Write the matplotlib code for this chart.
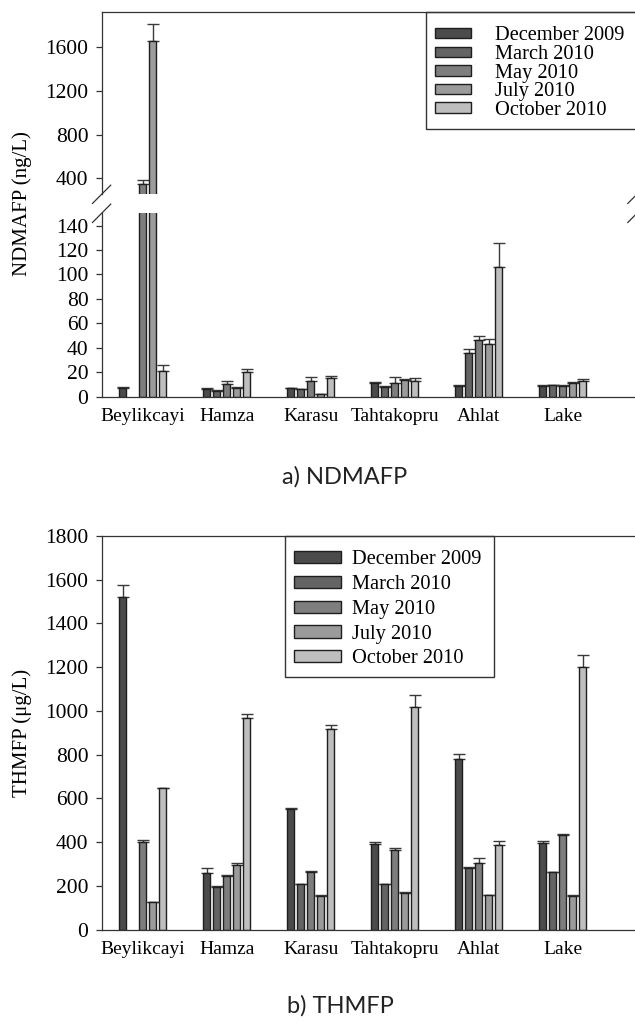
import numpy as np
import matplotlib
matplotlib.use("Agg")
import matplotlib.pyplot as plt
from matplotlib.patches import Rectangle

plt.rcParams['font.family'] = ['Liberation Serif', 'DejaVu Serif']

# Data
sites = ["Beylikcayi", "Hamza", "Karasu", "Tahtakopru", "Ahlat", "Lake"]
months = ["December 2009", "March 2010", "May 2010", "July 2010", "October 2010"]
colors = ["#4b4b4b", "#646464", "#7e7e7e", "#9b9b9b", "#bebebe"]

nan = np.nan
# NDMAFP (ng/L)
ndma_dec = [7, 6, 7, 11, 9, 9]
ndma_mar = [nan, 5, 6, 8, 36, 9.5]
ndma_may = [348, 10.5, 12.5, 11.5, 46, 9]
ndma_jul = [1650, 7.5, 2, 13.5, 43.5, 11.5]
ndma_oct = [21, 20, 15.5, 13, 106.5, 12.8]
ndma_dec_err = [0.8, 0.9, 0.5, 1.3, 0.3, 0.3]
ndma_mar_err = [nan, 0.6, 0.3, 0.5, 3.3, 0.3]
ndma_may_err = [35, 2.3, 3.3, 4.7, 3.3, 0.3]
ndma_jul_err = [160, 0.5, 0.5, 1.0, 4.1, 0.8]
ndma_oct_err = [4.7, 2.8, 1.6, 2.1, 19.6, 1.6]

# THMFP (ug/L)
thm_dec = [1522, 261, 553, 390, 782, 395]
thm_mar = [nan, 195, 207, 207, 281, 263]
thm_may = [402, 245, 265, 365, 307, 432]
thm_jul = [126, 295, 155, 170, 157, 155]
thm_oct = [647, 968, 917, 1018, 386, 1201]
thm_dec_err = [52, 22, 4, 12, 20, 10]
thm_mar_err = [nan, 3, 3, 3, 5, 3]
thm_may_err = [7, 5, 5, 9, 21, 5]
thm_jul_err = [3, 12, 3, 3, 3, 5]
thm_oct_err = [3, 20, 18, 55, 20, 56]

ndma = [ndma_dec, ndma_mar, ndma_may, ndma_jul, ndma_oct]
ndma_err = [ndma_dec_err, ndma_mar_err, ndma_may_err, ndma_jul_err, ndma_oct_err]
thm = [thm_dec, thm_mar, thm_may, thm_jul, thm_oct]
thm_err = [thm_dec_err, thm_mar_err, thm_may_err, thm_jul_err, thm_oct_err]

x = np.arange(len(sites))
step = 0.119
width = 0.083
spine_c = "#333333"
W, H = 635, 1027


def draw_bars(ax, vals, errs):
    handles = []
    for i in range(5):
        xi = x + (i - 2) * step
        v = np.array(vals[i], dtype=float)
        e = np.array(errs[i], dtype=float)
        h = ax.bar(xi, v, width, color=colors[i], edgecolor="#1e1e1e",
                   linewidth=1.0, label=months[i], zorder=2)
        ax.errorbar(xi, v, yerr=[np.zeros_like(e), e], fmt="none",
                    ecolor="#3a3a3a", elinewidth=1.0, capsize=4.3,
                    capthick=1.0, zorder=1)
        handles.append(h)
    return handles


def style(ax):
    ax.set_xlim(-0.492, 5.88)
    for s in ax.spines.values():
        s.set_color(spine_c)
        s.set_linewidth(0.9)
    ax.spines["right"].set_visible(False)
    ax.tick_params(axis="y", direction="out", length=4.5, width=0.9,
                   color=spine_c, labelsize=15.5, pad=5)
    ax.tick_params(axis="x", length=0, labelsize=14, pad=8)


def legend_box(handles, left, top, right, bottom, patch_x, row1_y, **kw):
    # frame drawn separately so it can sit exactly where the original has it
    fig.add_artist(Rectangle((left / W, 1 - bottom / H), (right - left) / W,
                             (bottom - top) / H, transform=fig.transFigure,
                             fill=False, ec=spine_c, lw=1.0))
    fig.legend(handles, months, loc="upper left",
               bbox_to_anchor=(patch_x / W, 1 - (row1_y - 6.5) / H),
               bbox_transform=fig.transFigure, borderaxespad=0, borderpad=0,
               frameon=False, fontsize=14.7, **kw)


fig = plt.figure(figsize=(6.35, 10.27), dpi=100)

# a) NDMAFP, broken axis
ax_hi = fig.add_axes([0.160, 0.8108, 0.843, 0.1778])
ax_lo = fig.add_axes([0.160, 0.6137, 0.843, 0.1786])
h = draw_bars(ax_hi, ndma, ndma_err)
draw_bars(ax_lo, ndma, ndma_err)
for ax in (ax_hi, ax_lo):
    style(ax)
ax_hi.set_ylim(255, 1920)
ax_hi.set_yticks([400, 800, 1200, 1600])
ax_hi.spines["bottom"].set_visible(False)
ax_hi.set_xticks([])
ax_lo.set_ylim(0, 150)
ax_lo.set_yticks(np.arange(0, 141, 20))
ax_lo.spines["top"].set_visible(False)
ax_lo.set_xticks(x)
ax_lo.set_xticklabels(sites)

# break marks
dx = 0.017
for ax, y0 in ((ax_hi, 0.0), (ax_lo, 1.0)):
    dy = 0.05
    for xc in (0.0, 1.0):
        ax.plot([xc - dx, xc + dx], [y0 - dy, y0 + dy], transform=ax.transAxes,
                color=spine_c, lw=0.9, clip_on=False)

legend_box(h, 426, 12, 700, 129, 435, 33,
           handlelength=1.76, handleheight=0.4, handletextpad=1.18,
           labelspacing=-0.02)

fig.text(22 / W, 1 - 204 / H, "NDMAFP (ng/L)", rotation=90,
         ha="center", va="center", fontsize=15)
fig.text(345 / W, 1 - 477 / H, "a) NDMAFP", ha="center", va="center",
         fontsize=17, family=["Lato", "DejaVu Sans"], color="#222222")

# b) THMFP
ax_b = fig.add_axes([0.160, 0.0947, 0.843, 0.3834])
h2 = draw_bars(ax_b, thm, thm_err)
style(ax_b)
ax_b.set_ylim(0, 1800)
ax_b.set_yticks(np.arange(0, 1801, 200))
ax_b.set_xticks(x)
ax_b.set_xticklabels(sites)

legend_box(h2, 285, 536, 494, 677, 294, 557,
           handlelength=2.29, handleheight=0.55, handletextpad=0.54,
           labelspacing=0.28)

fig.text(22 / W, 1 - 733 / H, "THMFP (\u03bcg/L)", rotation=90,
         ha="center", va="center", fontsize=15)
fig.text(340 / W, 1 - 1006 / H, "b) THMFP", ha="center", va="center",
         fontsize=17, family=["Lato", "DejaVu Sans"], color="#222222")

fig.savefig("out.png", dpi=100)
